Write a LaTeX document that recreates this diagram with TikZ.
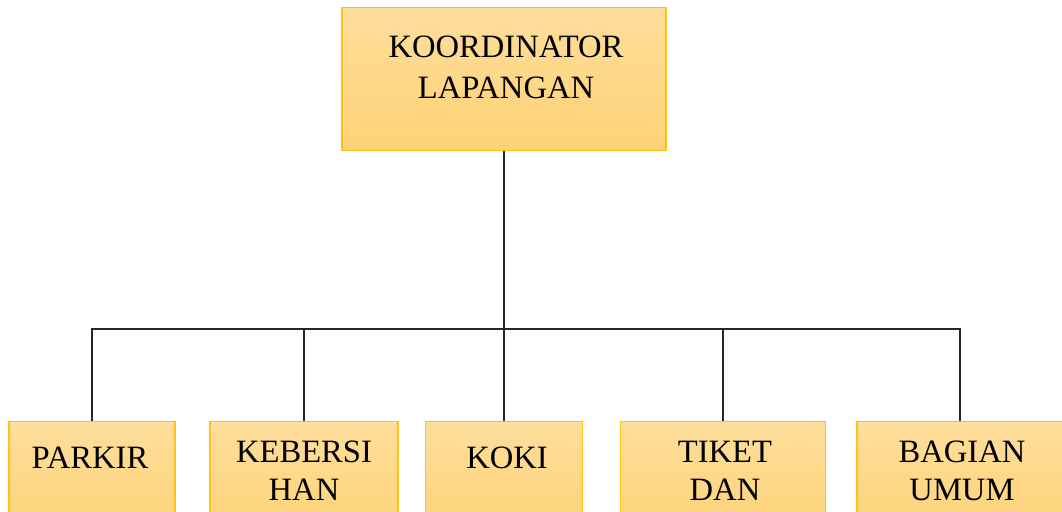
\documentclass[tikz,border=0pt]{standalone}
\usepackage{fontspec}
\setmainfont{Liberation Serif}
\usetikzlibrary{positioning}

\definecolor{boxtop}{RGB}{254,222,155}
\definecolor{boxbot}{RGB}{254,210,118}
\definecolor{boxline}{RGB}{255,194,20}

\begin{document}
\begin{tikzpicture}[x=0.5pt, y=-0.5pt,
    unit/.style={draw=boxline, line width=0.6pt, top color=boxtop, bottom color=boxbot, anchor=north, inner sep=0pt},
    unitlabel/.style={anchor=north, align=center, inner sep=0pt, font=\fontsize{16.3}{19}\selectfont},
    link/.style={draw=black!85, line width=0.65pt}]
    \useasboundingbox (0,0) rectangle (1062,511);

    % Koordinator lapangan
    \node[unit, minimum width=162pt, minimum height=71.5pt] (koord) at (504,7) {};
    \node[unitlabel, font=\fontsize{16.3}{20.5}\selectfont] (koord-t) at (506,36) {KOORDINATOR\\LAPANGAN};

    % Bagian bawah (terpotong di tepi bawah)
    \node[unit, minimum width=83pt, minimum height=60pt] (parkir) at (92,421) {};
    \node[unit, minimum width=94pt, minimum height=60pt] (kebersihan) at (304,421) {};
    \node[unit, minimum width=78.5pt, minimum height=60pt] (koki) at (504,421) {};
    \node[unit, minimum width=102.5pt, minimum height=60pt] (tiket) at (723,421) {};
    \node[unit, minimum width=103pt, minimum height=60pt] (bagian) at (960,421) {};

    \node[unitlabel] (parkir-t) at (90,447) {PARKIR};
    \node[unitlabel] (kebersihan-t) at (304,441) {KEBERSI\\HAN};
    \node[unitlabel] (koki-t) at (507,447) {KOKI};
    \node[unitlabel] (tiket-t) at (725,441) {TIKET\\DAN};
    \node[unitlabel] (bagian-t) at (962,441) {BAGIAN\\UMUM};

    % Garis penghubung
    \coordinate (bus) at (0,329);
    \draw[link] (koord.south) -- (koord.south |- bus);
    \draw[link] (parkir.north) -- (parkir.north |- bus) -- (bagian.north |- bus) -- (bagian.north);
    \foreach \n in {kebersihan,koki,tiket}
        \draw[link] (\n.north) -- (\n.north |- bus);
\end{tikzpicture}
\end{document}
